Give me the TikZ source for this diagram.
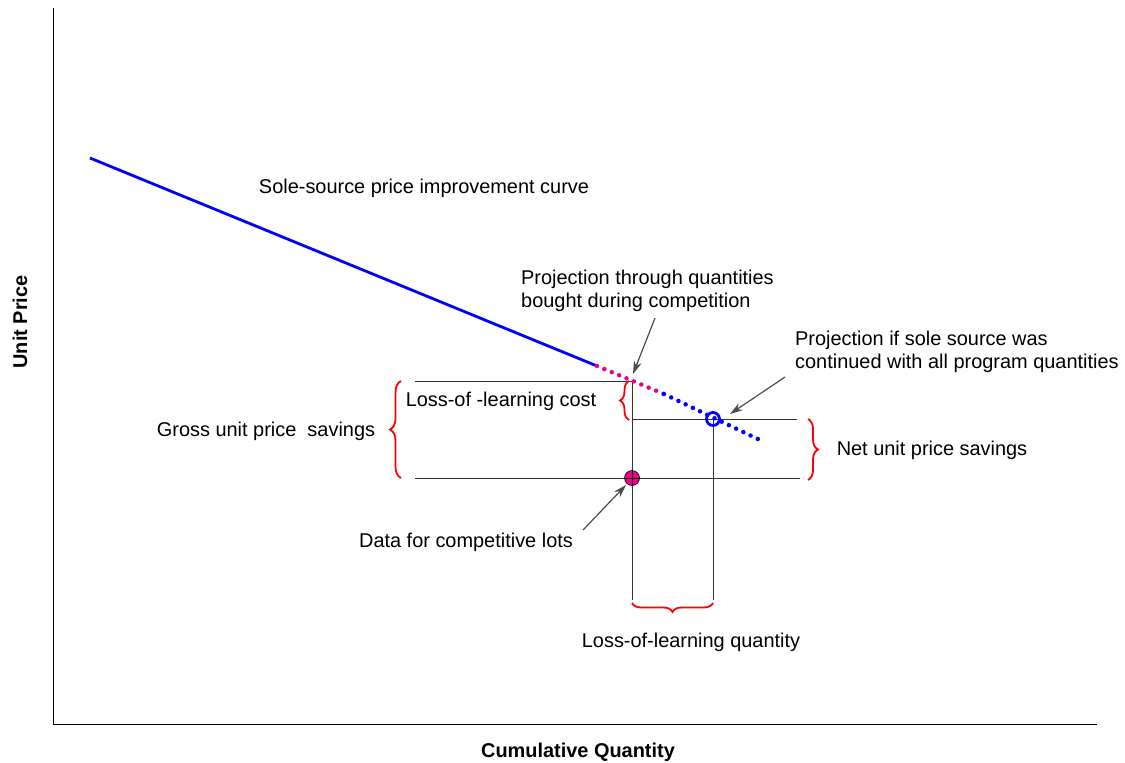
\documentclass[tikz,border=0pt]{standalone}
\usepackage{fontspec}
\setmainfont{Liberation Sans}
\usetikzlibrary{decorations.pathreplacing,arrows.meta}
\begin{document}
\begin{tikzpicture}[x=1bp,y=-1bp,
    every node/.style={font=\fontsize{20}{23}\selectfont,inner sep=0pt},
    guide/.style={draw=black!80,line width=1bp},
    redbrace/.style={draw=red,line width=1.8bp,decorate,decoration={brace,amplitude=#1}},
    pointer/.style={draw=black!70,line width=1.2bp,-{Stealth[length=13bp,width=8bp]}},
    dotline/.style={line width=4.5bp,line cap=round,dash pattern=on 0bp off 8bp}]
\useasboundingbox (0,0) rectangle (1125,763);
% axes
\coordinate (top) at (53,8);
\coordinate (orig) at (53,724);
\coordinate (right) at (1097,724);
\draw[line width=1bp] (top) -- (orig) -- (right);
\node[font=\fontsize{20}{23}\bfseries\selectfont,rotate=90] (ylbl) at (20,322) {Unit Price};
\node[font=\fontsize{20}{23}\bfseries\selectfont] (xlbl) at (578,752) {Cumulative Quantity};
% curve points
\coordinate (start) at (90,158);
\coordinate (brk) at (597,366);
\coordinate (kink) at (632,381);
\coordinate (mend) at (664,394);
\coordinate (cend) at (762,441);
\coordinate (sole) at (713,419);
\coordinate (comp) at (632,478);
% guide lines
\coordinate (g1l) at (415,381);
\coordinate (g2r) at (797,419);
\coordinate (g3l) at (415,478);
\coordinate (g3r) at (800,478);
\coordinate (v1b) at (632,600);
\coordinate (v2b) at (713,600);
\coordinate (v2m) at (632,419);
\draw[guide] (g1l) -- (kink) -- (v1b);
\draw[guide] (v2m) -- (g2r);
\draw[guide] (g3l) -- (g3r);
\draw[guide] (sole) -- (v2b);
% price improvement curve
\draw[blue,line width=2.8bp] (start) -- (brk);
\draw[dotline,magenta] (brk) -- (mend);
\draw[dotline,blue] (mend) -- (cend);
\draw[blue,line width=2.8bp] (sole) circle (6.5);
\draw[black,fill=magenta,line width=0.6bp] (comp) circle (7.5);
\draw[black,line width=0.5bp] ([xshift=-7.5bp]comp) -- ([xshift=7.5bp]comp)
  ([yshift=-7.5bp]comp) -- ([yshift=7.5bp]comp);
% braces
\draw[redbrace=11bp] (401,478) -- (401,381);
\draw[redbrace=9bp] (629,420) -- (629,381);
\draw[redbrace=10bp] (808,419) -- (808,480);
\draw[redbrace=9bp] (713,603) -- (632,603);
% labels
\node (curvelbl) at (424,188) {Sole-source price improvement curve};
\node[anchor=west,align=left] (projlbl) at (521,291) {Projection through quantities\\bought during competition};
\node[anchor=west,align=left] (solelbl) at (795,352) {Projection if sole source was\\continued with all program quantities};
\node (costlbl) at (501,401) {Loss-of -learning cost};
\node (grosslbl) at (266,431) {Gross unit price\ \ savings};
\node (netlbl) at (932,450) {Net unit price savings};
\node (datalbl) at (466,542) {Data for competitive lots};
\node (qtylbl) at (691,642) {Loss-of-learning quantity};
% pointers
\coordinate (p1) at (655,318);
\coordinate (p1h) at (633,374);
\coordinate (p2) at (785,377);
\coordinate (p2h) at (730,414);
\coordinate (p3) at (583,530);
\coordinate (p3h) at (626,485);
\draw[pointer] (p1) -- (p1h);
\draw[pointer] (p2) -- (p2h);
\draw[pointer] (p3) -- (p3h);
\end{tikzpicture}
\end{document}
